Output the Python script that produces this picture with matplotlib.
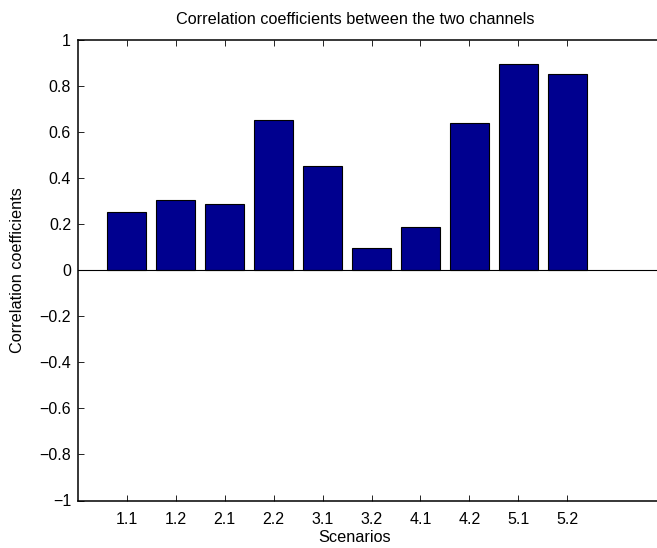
import matplotlib
matplotlib.use("Agg")
import matplotlib.pyplot as plt

scenarios = ["1.1", "1.2", "2.1", "2.2", "3.1", "3.2", "4.1", "4.2", "5.1", "5.2"]
coefficients = [0.253, 0.303, 0.285, 0.652, 0.452, 0.097, 0.188, 0.638, 0.895, 0.852]
y_ticks = [-1, -0.8, -0.6, -0.4, -0.2, 0, 0.2, 0.4, 0.6, 0.8, 1]
y_tick_labels = ["\u22121", "\u22120.8", "\u22120.6", "\u22120.4", "\u22120.2", "0",
                 "0.2", "0.4", "0.6", "0.8", "1"]

plt.rcParams['font.family'] = ['Liberation Sans', 'DejaVu Sans']
W, H = 657, 548
fig = plt.figure(figsize=(W / 100, H / 100), dpi=100)
left, right, top, bottom = 78, 665, 39.5, 500.5
ax = fig.add_axes([left / W, 1 - bottom / H, (right - left) / W, (bottom - top) / H])

x = list(range(1, len(scenarios) + 1))
ax.bar(x, coefficients, width=0.8, color='#00008F', edgecolor='black', linewidth=0.8, zorder=2)
ax.axhline(0, color='black', linewidth=0.8, zorder=3)

ax.set_xlim(0, 12)
ax.set_ylim(-1, 1)
ax.set_xticks(x)
ax.set_xticklabels(scenarios)
ax.set_yticks(y_ticks)
ax.set_yticklabels(y_tick_labels)
ax.tick_params(direction='in', length=4, width=0.6, labelsize=11.5, top=True, right=False, pad=5)
ax.tick_params(axis='x', pad=8)
ax.spines['right'].set_visible(False)
for s in ['left', 'top', 'bottom']:
    ax.spines[s].set_linewidth(1.1)

fig.text(355 / W, 1 - 19 / H, "Correlation coefficients between the two channels",
         ha='center', va='center', fontsize=11.7)
fig.text(355 / W, 1 - 537 / H, "Scenarios", ha='center', va='center', fontsize=11.7)
fig.text(18 / W, 1 - 270 / H, "Correlation coefficients", ha='center', va='center',
         rotation=90, fontsize=11.7)

fig.savefig("out.png", dpi=100)
